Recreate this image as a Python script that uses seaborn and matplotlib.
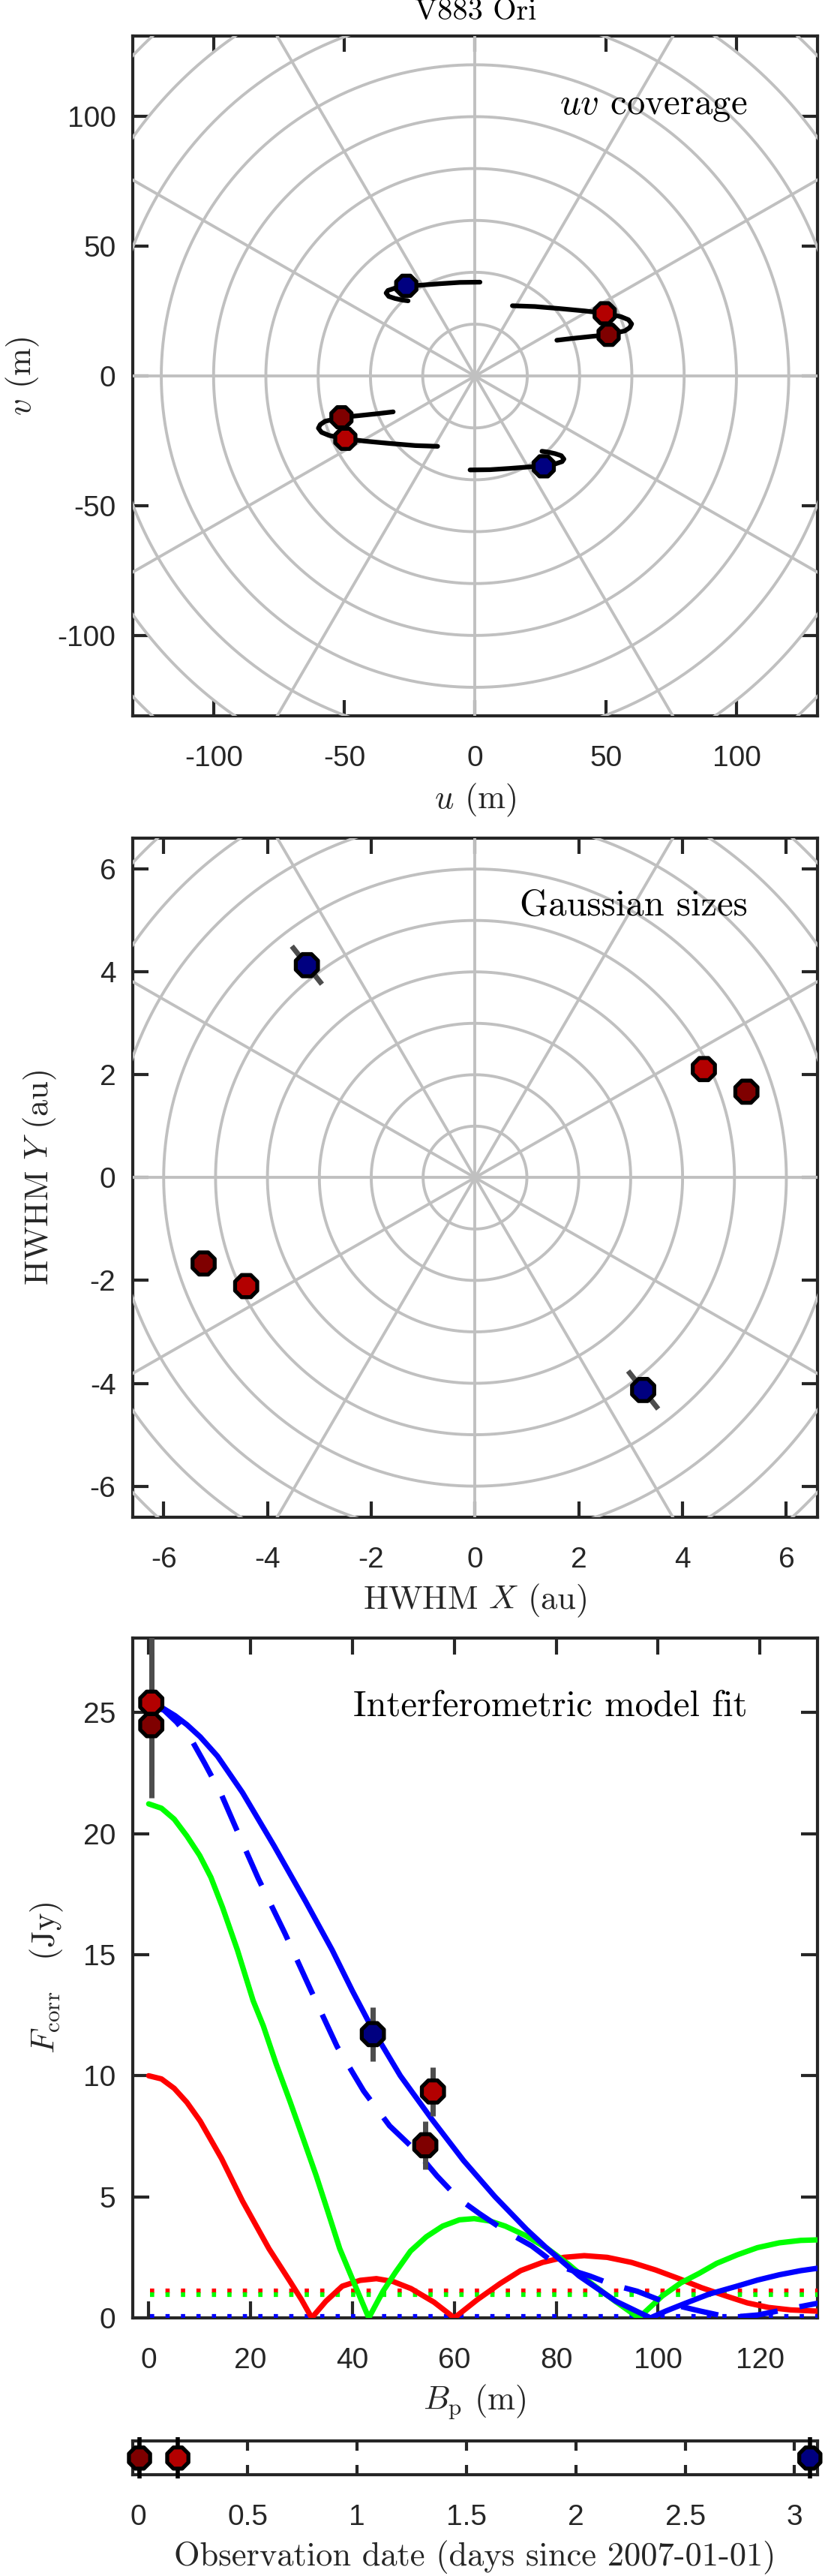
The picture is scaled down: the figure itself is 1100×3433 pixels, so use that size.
import numpy as np
import pandas as pd
import matplotlib
matplotlib.use("Agg")
import matplotlib.pyplot as plt
import seaborn as sns

# ======================= DATA =======================
# observation colours: dark red, red, blue
C_DARK, C_RED, C_BLUE = "#7F0000", "#B30000", "#000080"

# timeline (days since 2007-01-01)
obs_day = [0.005, 0.18, 3.07]

# uv coverage: baseline at observation time (m); (-u,-v) conjugates are plotted too
uv_u = [51.1, 49.6, -26.3]
uv_v = [15.9, 24.2, 34.8]
# uv tracks (m)
trk_dark_u = [31.3, 37.2, 44.8, 51.1]
trk_dark_v = [13.8, 14.5, 15.3, 15.9]
trk_red_u = [14.3, 22.9, 32.4, 42.0, 49.6, 55.8, 58.7, 59.9, 59.2, 57.3, 54.9, 52.5]
trk_red_v = [27.1, 26.8, 26.0, 25.1, 24.2, 22.9, 21.7, 20.1, 18.7, 17.4, 16.9, 16.6]
trk_blue_u = [1.9, -5.8, -13.4, -21.1, -26.3, -30.6, -33.3, -34.0, -33.0, -30.6, -27.8, -25.6]
trk_blue_v = [36.2, 36.1, 35.6, 35.0, 34.8, 33.9, 33.0, 32.0, 30.7, 29.9, 29.3, 29.0]

# Gaussian sizes (HWHM, au) with radial uncertainty
gs_x = [5.23, 4.41, -3.24]
gs_y = [1.67, 2.11, 4.13]
gs_err = [0.05, 0.05, 0.47]

# correlated fluxes
vis_B = [0.5, 0.5, 54.3, 55.8, 44.0]
vis_F = [24.48, 25.41, 7.13, 9.35, 11.72]
vis_err = [3.0, 3.0, 1.0, 1.0, 1.12]
vis_col = [C_DARK, C_RED, C_DARK, C_RED, C_BLUE]

# model curves
red_B = [0, 2.5, 5.0, 7.5, 10.1, 14.3, 18.4, 23.6, 27.7, 30.0, 32.0, 34.8, 38.0, 41.5, 44.7,
         48.0, 51.5, 56.0, 60.0, 64.5, 69.0, 73.0, 77.3, 81.5, 85.5, 90.0, 94.8, 99.5, 104.1,
         108.5, 113.4, 117.5, 121.7, 126.0, 131.0, 133.0]
red_F = [10.0, 9.87, 9.48, 8.9, 8.13, 6.58, 4.83, 2.86, 1.52, 0.75, 0.0, 0.69, 1.31, 1.55, 1.62,
         1.5, 1.21, 0.65, 0.0, 0.75, 1.42, 1.95, 2.29, 2.5, 2.57, 2.5, 2.29, 1.98, 1.62,
         1.25, 0.9, 0.62, 0.43, 0.33, 0.28, 0.27]
green_B = [0, 2.5, 5.0, 7.5, 10.0, 12.2, 14.5, 17.4, 20.5, 22.5, 25.0, 27.7, 30.0, 32.9, 35.0, 37.5,
           40.0, 43.2, 46.0, 48.5, 51.4, 54.5, 57.7, 61.0, 63.9, 67.0, 70.0, 74.0, 78.3, 82.5,
           86.9, 91.5, 96.2, 100.8, 104.5, 108.0, 111.5, 115.5, 119.5, 123.8, 128.0, 131.0, 133.0]
green_F = [21.23, 21.05, 20.6, 19.9, 19.1, 18.2, 16.95, 15.2, 13.1, 12.06, 10.5, 8.96, 7.6, 5.86, 4.5, 2.86,
           1.6, 0.0, 1.1, 1.9, 2.76, 3.35, 3.79, 4.05, 4.1, 4.0, 3.79, 3.4, 2.86, 2.2,
           1.42, 0.7, 0.0, 0.9, 1.45, 1.83, 2.25, 2.6, 2.9, 3.1, 3.2, 3.22, 3.23]
blue_B = [0, 2.8, 5.2, 7.5, 10.1, 13.5, 18.4, 24.6, 30.8, 36.0, 40.0, 44.0, 49.4, 55.6, 61.8,
          68.0, 74.2, 78.3, 84.5, 91.7, 98.5, 101.5, 105.2, 110.0, 115.5, 119.5, 123.8, 128.0,
          131.0, 133.0]
blue_F = [25.35, 25.18, 24.87, 24.5, 24.0, 23.2, 21.7, 19.5, 17.2, 15.2, 13.5, 11.9, 10.0, 8.2, 6.5,
          5.0, 3.65, 2.85, 1.73, 0.69, 0.0, 0.28, 0.59, 0.98, 1.31, 1.56, 1.78, 1.95,
          2.04, 2.1]
bdash_B = [0, 3.0, 5.5, 8.6, 11.0, 14.3, 17.4, 21.5, 26.7, 31.8, 37.0, 42.2, 47.3, 52.5, 56.6,
           60.8, 64.9, 70.0, 75.2, 80.4, 86.6, 91.2, 95.9, 102.1, 108.3, 114.0, 119.6, 125.8,
           131.0, 133.0]
bdash_F = [25.3, 25.1, 24.6, 23.8, 22.9, 21.6, 20.1, 18.15, 15.9, 13.55, 11.2, 9.37, 7.93, 6.89, 5.86,
           4.93, 4.31, 3.59, 2.97, 2.14, 1.73, 1.36, 1.1, 0.59, 0.28, 0.02, 0.12, 0.38,
           0.59, 0.65]
# unresolved (background) levels
bg_red, bg_green, bg_blue = 1.13, 0.95, 0.07

# tick values / labels
uv_ticks = [-100, -50, 0, 50, 100]
gs_ticks = [-6, -4, -2, 0, 2, 4, 6]
B_ticks = [0, 20, 40, 60, 80, 100, 120]
F_ticks = [0, 5, 10, 15, 20, 25]
day_ticks = [0, 0.5, 1, 1.5, 2, 2.5, 3]
day_labels = ["0", "0.5", "1", "1.5", "2", "2.5", "3"]

# ======================= STYLE =======================
sns.set_theme(style="white")
plt.rcParams["font.family"] = ["Liberation Sans", "DejaVu Sans"]
plt.rcParams["mathtext.fontset"] = "cm"
plt.rcParams["axes.unicode_minus"] = False

SPINE = "#262626"
GRID = "#C0C0C0"
ERR = "#4D4D4D"
SERIF = "cmr10"
TICK_FS, LAB_FS, TXT_FS = 28, 32, 35

W, H = 1100, 3433
fig = plt.figure(figsize=(W / 100, H / 100), dpi=100)
fig.patch.set_facecolor("white")


def box(top, bottom, left=176.7, right=1090.0):
    return [left / W, 1 - bottom / H, (right - left) / W, (bottom - top) / H]


def style(ax, xt, yt, tl=15, xpad=28, ypad=16):
    ax.set_facecolor("white")
    for s in ax.spines.values():
        s.set_visible(True)
        s.set_color(SPINE)
        s.set_linewidth(3.0)
    ax.set_xticks(xt)
    ax.set_yticks(yt)
    ax.tick_params(which="both", direction="in", length=tl, width=3.0, color=SPINE,
                   top=True, right=True, bottom=True, left=True,
                   labelsize=TICK_FS, labelcolor=SPINE)
    ax.tick_params(axis="x", pad=xpad)
    ax.tick_params(axis="y", pad=ypad)
    ax.grid(False)


def polar_grid(ax, rings, rmax):
    th = np.linspace(0, 2 * np.pi, 721)
    for r in rings:
        ax.plot(r * np.cos(th), r * np.sin(th), color=GRID, lw=2.8, zorder=2.6)
    for a in np.deg2rad(np.arange(0, 360, 30)):
        ax.plot([0, rmax * np.cos(a)], [0, rmax * np.sin(a)], color=GRID, lw=2.8, zorder=2.6)


def octagons(ax, x, y, cols, ms=23, clip=True):
    df = pd.DataFrame({"x": x, "y": y, "c": cols})
    sns.scatterplot(data=df, x="x", y="y", hue="c", palette={c: c for c in set(cols)},
                    marker="8", s=ms ** 2, edgecolor="black", linewidth=3.8,
                    legend=False, ax=ax, zorder=6, clip_on=clip)


def labels(ax, xl, yl, ylx=-0.135):
    ax.set_xlabel(xl, fontfamily=SERIF, fontsize=LAB_FS, color=SPINE)
    ax.xaxis.label.set_va("center")
    ax.xaxis.set_label_coords(0.5, -112 / ax.bbox.height * 1.0)
    if yl is not None:
        ax.set_ylabel(yl, fontfamily=SERIF, fontsize=LAB_FS, color=SPINE)
        ax.yaxis.label.set_va("center")
        ax.yaxis.set_label_coords(ylx, 0.5)
    else:
        ax.set_ylabel("")


obs_cols = [C_DARK, C_RED, C_BLUE]

# ---------------- Panel 1: uv coverage ----------------
ax1 = fig.add_axes(box(48.3, 954.0))
polar_grid(ax1, np.arange(20, 220, 20), 220)
for tu, tv in [(trk_dark_u, trk_dark_v), (trk_red_u, trk_red_v), (trk_blue_u, trk_blue_v)]:
    sns.lineplot(x=tu, y=tv, sort=False, estimator=None, color="black", lw=4.5, ax=ax1, zorder=4)
    sns.lineplot(x=[-a for a in tu], y=[-b for b in tv], sort=False, estimator=None,
                 color="black", lw=4.5, ax=ax1, zorder=4)
pu, pv, pc = [], [], []
for u, v, c in zip(uv_u, uv_v, obs_cols):
    pu += [u, -u]
    pv += [v, -v]
    pc += [c, c]
octagons(ax1, pu, pv, pc, ms=21)
ax1.set_xlim(-131, 131)
ax1.set_ylim(-131, 131)
style(ax1, uv_ticks, uv_ticks)
labels(ax1, r"$u$ (m)", r"$v$ (m)", ylx=-0.16)
ax1.text(0.898, 0.886, r"$uv$ coverage", transform=ax1.transAxes, ha="right",
         va="baseline", fontfamily=SERIF, fontsize=TXT_FS, color="black", zorder=7)
fig.text(634 / W, 1 - 26 / H, "V883 Ori", ha="center", va="baseline",
         fontfamily=SERIF, fontsize=29, color="black")

# ---------------- Panel 2: Gaussian sizes ----------------
ax2 = fig.add_axes(box(1117.0, 2021.7))
polar_grid(ax2, np.arange(1, 11, 1), 11)
gx, gy, gc, ge = [], [], [], []
for x, y, e, c in zip(gs_x, gs_y, gs_err, obs_cols):
    gx += [x, -x]
    gy += [y, -y]
    gc += [c, c]
    ge += [e, e]
for x, y, e in zip(gx, gy, ge):
    r = np.hypot(x, y)
    ux, uy = x / r, y / r
    ax2.plot([x - e * ux, x + e * ux], [y - e * uy, y + e * uy], color=ERR, lw=5,
             solid_capstyle="butt", zorder=5)
octagons(ax2, gx, gy, gc, ms=23)
ax2.set_xlim(-6.6, 6.6)
ax2.set_ylim(-6.6, 6.6)
style(ax2, gs_ticks, gs_ticks)
labels(ax2, r"HWHM $X$ (au)", r"HWHM $Y$ (au)", ylx=-0.135)
ax2.text(0.898, 0.886, "Gaussian sizes", transform=ax2.transAxes, ha="right",
         va="baseline", fontfamily=SERIF, fontsize=TXT_FS, color="black", zorder=7)

# ---------------- Panel 3: model fit ----------------
ax3 = fig.add_axes(box(2183.3, 3089.0))
LW = 5.2
for lvl, col in [(bg_red, "#FF0000"), (bg_green, "#00FF00"), (bg_blue, "#0000FF")]:
    sns.lineplot(x=[0.3, 133], y=[lvl, lvl], color=col, lw=4.5, ax=ax3,
                 linestyle=(0, (0.9, 2.4)), zorder=3)
sns.lineplot(x=red_B, y=red_F, sort=False, estimator=None, color="#FF0000", lw=LW, ax=ax3, zorder=3.1)
sns.lineplot(x=green_B, y=green_F, sort=False, estimator=None, color="#00FF00", lw=LW, ax=ax3, zorder=3.2)
sns.lineplot(x=bdash_B, y=bdash_F, sort=False, estimator=None, color="#0000FF", lw=LW, ax=ax3,
             linestyle=(0, (7.0, 4.1)), zorder=3.3)
sns.lineplot(x=blue_B, y=blue_F, sort=False, estimator=None, color="#0000FF", lw=LW, ax=ax3, zorder=3.4)
ax3.vlines(vis_B, [f - e for f, e in zip(vis_F, vis_err)], [f + e for f, e in zip(vis_F, vis_err)],
           color=ERR, lw=5, zorder=5)
octagons(ax3, vis_B, vis_F, vis_col, ms=23)
ax3.set_xlim(-3.18, 131.3)
ax3.set_ylim(0, 28.07)
style(ax3, B_ticks, F_ticks, tl=15.5)
labels(ax3, r"$B_{\mathrm{p}}$ (m)", r"$F_{\mathrm{corr}}\quad$(Jy)", ylx=-0.125)
ax3.text(0.898, 0.886, "Interferometric model fit", transform=ax3.transAxes, ha="right",
         va="baseline", fontfamily=SERIF, fontsize=TXT_FS, color="black", zorder=7)

# ---------------- Panel 4: timeline ----------------
ax4 = fig.add_axes(box(3253.3, 3298.3))
ax4.vlines(obs_day, -0.11, 1.11, color="black", lw=4, zorder=5, clip_on=False)
octagons(ax4, obs_day, [0.5, 0.5, 0.5], obs_cols, ms=22, clip=False)
ax4.set_xlim(-0.027, 3.105)
ax4.set_ylim(0, 1)
style(ax4, day_ticks, [], tl=9.5)
ax4.set_xticklabels(day_labels)
ax4.tick_params(left=False, right=False)
ax4.set_xlabel("Observation date (days since 2007-01-01)", fontfamily=SERIF,
               fontsize=LAB_FS, color=SPINE)
ax4.xaxis.label.set_va("center")
ax4.xaxis.set_label_coords(0.5, -110 / 45.0)
ax4.set_ylabel("")

fig.savefig("out.png", dpi=100, facecolor="white")
